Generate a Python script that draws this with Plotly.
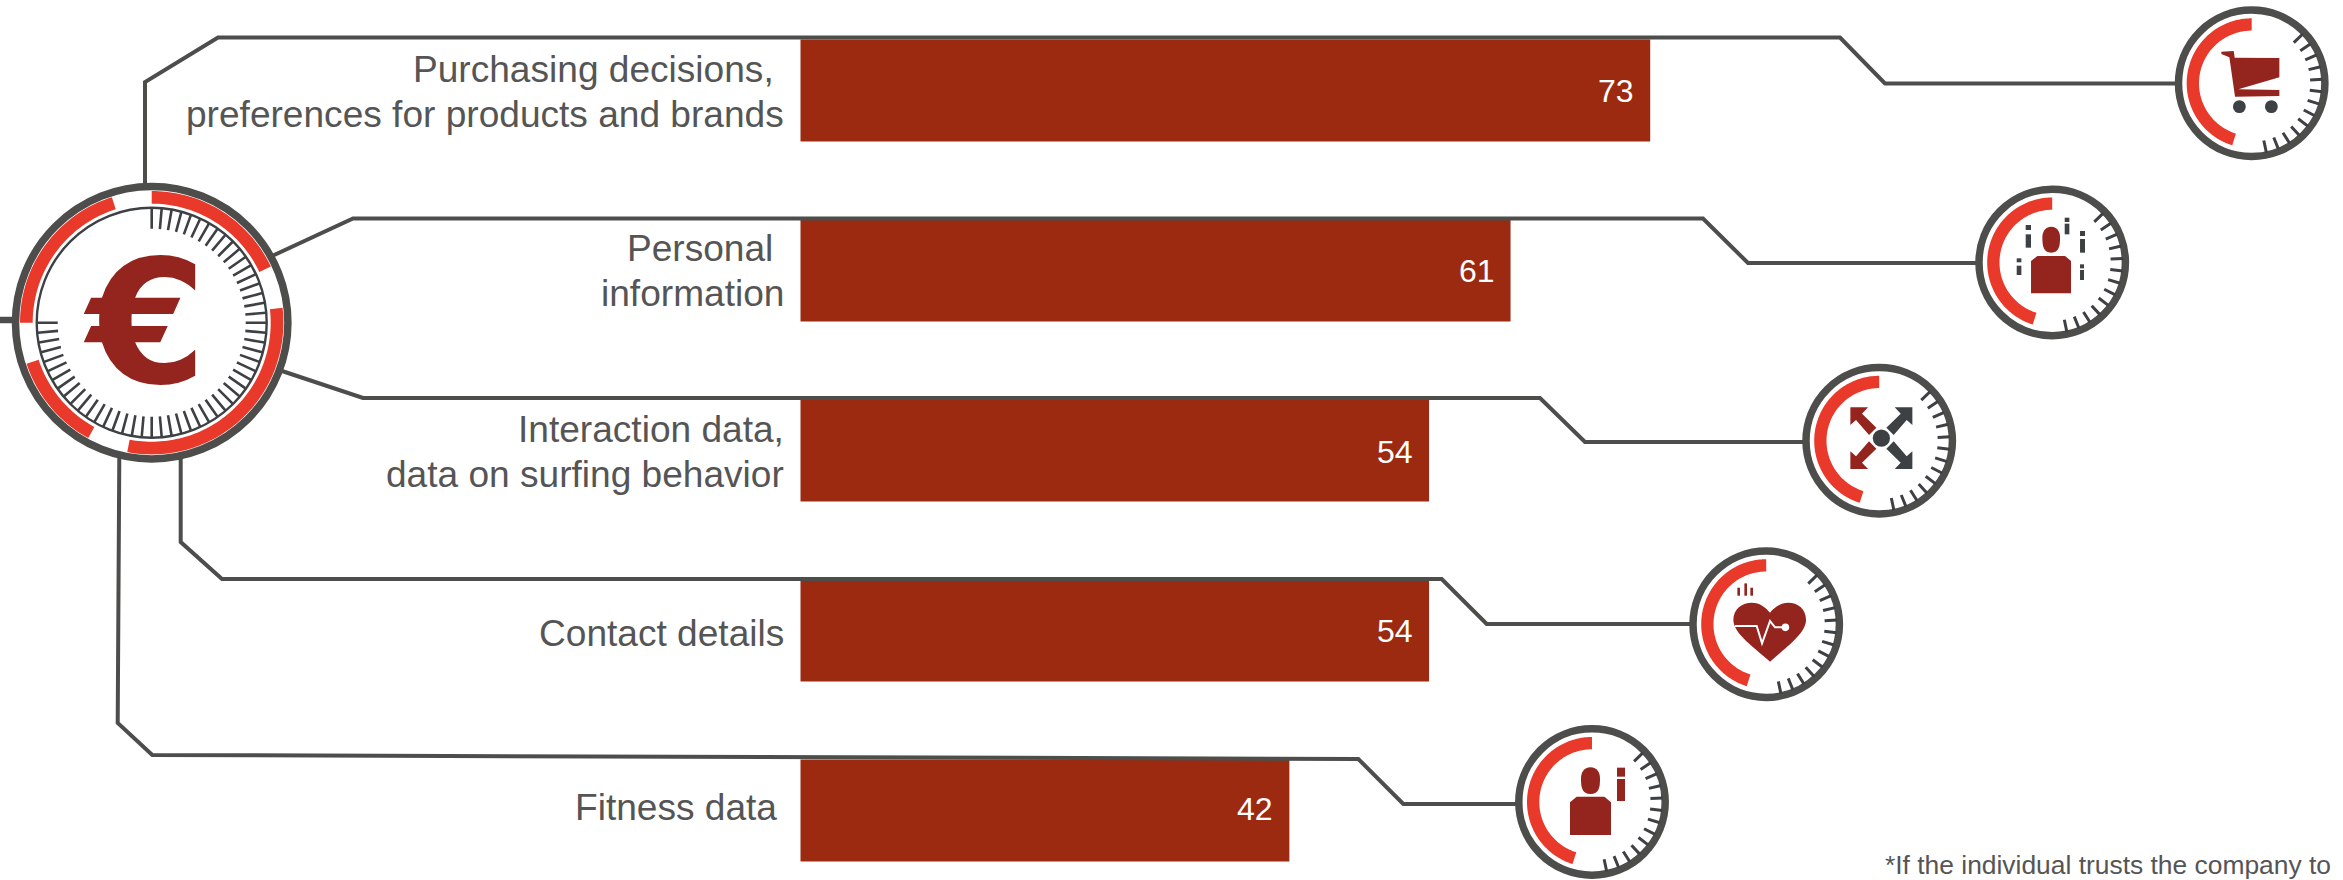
import math
import plotly.graph_objects as go

# ---- data ----
categories = [
    "Purchasing decisions,\u00a0\npreferences for products and brands",
    "Personal\u00a0\ninformation",
    "Interaction data,\ndata on surfing behavior",
    "Contact details",
    "Fitness data\u00a0",
]
values = [73, 61, 54, 54, 42]
footnote = "*If the individual trusts the company to"

# ---- palette ----
BAR = "#9c2a11"
ICON = "#93241e"
RED = "#e8392b"
RING = "#4d4d4b"
SLATE = "#3d4144"
TEXT = "#555555"
FONT = "Liberation Sans, Arial, sans-serif"

W, H = 2343, 880

# Value axis: 800.5 px is zero, 11.64 px per unit. Category axis: rows are 180 px apart.
X_ZERO, X_UNIT = 800.5, 11.64
Y_FIRST, Y_STEP = 90.4, 180.0
x_range = [-X_ZERO / X_UNIT, (W - X_ZERO) / X_UNIT]
y_range = [(H - Y_FIRST) / Y_STEP, -Y_FIRST / Y_STEP]

# Connector routes from the central dial to each row's gauge
connectors = [
    [(145, 184), (145, 82), (218, 37.5), (1840, 37.5), (1885, 83.5), (2178, 83.5)],
    [(272, 256), (353, 218.5), (1703, 218.5), (1748, 263), (1978, 263)],
    [(282, 371), (363, 398), (1540, 398), (1585, 442), (1805, 442)],
    [(180.7, 458), (180.7, 542), (222, 579), (1441.7, 579), (1486.7, 624), (1692, 624)],
    [(119.3, 456), (117.7, 723), (152.3, 755), (1358.3, 759), (1403.3, 804), (1518, 804)],
]
feed_stub = [(0, 320), (15, 320)]

# Gauge centres, top to bottom
gauge_centres = [(2251.7, 83.3), (2052.2, 262.5), (1879.2, 440.8), (1766.2, 624.2), (1592, 802)]
DIAL = (151.7, 322.7)
dial_arcs = [(0, 64.8), (83.5, 190.7), (208.8, 251.8), (270, 342.4)]


def polar(c, r, deg):
    """Point at radius r, deg clockwise from twelve o'clock."""
    a = math.radians(deg)
    return c[0] + r * math.sin(a), c[1] - r * math.cos(a)


def fmt(points, close=False):
    body = " L ".join(f"{x:.2f} {y:.2f}" for x, y in points)
    return "M " + body + (" Z" if close else "")


def sector(c, r0, r1, a0, a1):
    n = max(2, int(abs(a1 - a0) / 1.5))
    outer = [polar(c, r1, a0 + (a1 - a0) * i / n) for i in range(n + 1)]
    inner = [polar(c, r0, a1 - (a1 - a0) * i / n) for i in range(n + 1)]
    return fmt(outer + inner, close=True)


def ticks(c, r0, r1, angles):
    return " ".join(fmt([polar(c, r0, a), polar(c, r1, a)]) for a in angles)


shapes = []


def path(d, fill=None, line=None, width=0):
    shapes.append(dict(
        type="path", path=d, xref="x2", yref="y2",
        fillcolor=fill if fill else "rgba(0,0,0,0)",
        line=dict(color=line if line else "rgba(0,0,0,0)", width=width),
    ))


def circle(c, r, fill=None, line=None, width=0):
    shapes.append(dict(
        type="circle", xref="x2", yref="y2",
        x0=c[0] - r, x1=c[0] + r, y0=c[1] - r, y1=c[1] + r,
        fillcolor=fill if fill else "rgba(0,0,0,0)",
        line=dict(color=line if line else "rgba(0,0,0,0)", width=width),
    ))


def gauge(c):
    circle(c, 73.2, fill="#ffffff", line=RING, width=7.5)
    path(sector(c, 52.7, 65, 0, -162.6), fill=RED)
    path(ticks(c, 58.5, 71, [46 + 10.17 * i for i in range(13)]), line=SLATE, width=3)


# Icons are authored in 3x units around the gauge centre.
def icon_pts(c, origin, pts):
    return [(c[0] + (x - origin[0]) / 3, c[1] + (y - origin[1]) / 3) for x, y in pts]


def icon_poly(c, origin, pts, fill=ICON):
    path(fmt(icon_pts(c, origin, pts), close=True), fill=fill)


def icon_rect(c, origin, x0, x1, y0, y1, fill):
    icon_poly(c, origin, [(x0, y0), (x1, y0), (x1, y1), (x0, y1)], fill)


def icon_curve(c, origin, start, segments, fill=ICON):
    d = "M {:.2f} {:.2f}".format(*icon_pts(c, origin, [start])[0])
    for seg in segments:
        p = icon_pts(c, origin, seg)
        d += " C " + " ".join(f"{x:.2f} {y:.2f}" for x, y in p)
    path(d + " Z", fill=fill)


def head(c, origin, x0, x1, y0, y1, fill=ICON):
    xm = (x0 + x1) / 2
    icon_curve(c, origin, (xm, y0), [
        [(xm + (x1 - x0) * 0.35, y0), (x1, y0 + (y1 - y0) * 0.2), (x1, y0 + (y1 - y0) * 0.42)],
        [(x1, y0 + (y1 - y0) * 0.75), (x1 - 3, y1), (xm, y1)],
        [(x0 + 3, y1), (x0, y0 + (y1 - y0) * 0.75), (x0, y0 + (y1 - y0) * 0.42)],
        [(x0, y0 + (y1 - y0) * 0.2), (xm - (x1 - x0) * 0.35, y0), (xm, y0)],
    ], fill)


def letter_i(c, origin, x0, x1, dot0, dot1, stem0, stem1, fill):
    icon_rect(c, origin, x0, x1, dot0, dot1, fill)
    icon_rect(c, origin, x0, x1, stem0, stem1, fill)


def cart_icon(c):
    o = (305, 250)
    icon_poly(c, o, [(214, 155), (251, 153), (254, 173), (388, 174), (388, 232), (265, 268),
                     (388, 270), (388, 288), (255, 290), (238, 172), (214, 162)])
    circle(icon_pts(c, o, [(268, 320)])[0], 6.4, fill=SLATE)
    circle(icon_pts(c, o, [(364, 320)])[0], 6.4, fill=SLATE)


def crowd_icon(c):
    o = (276.5, 262.5)
    head(c, o, 247, 300, 155, 233)
    icon_poly(c, o, [(232, 243), (315, 243), (333, 258), (333, 355), (213, 355), (213, 258)])
    for x0, x1, d0, d1, s0, s1 in [
        (197, 213, 150, 165, 178, 218),
        (314, 328, 128, 141, 146, 178),
        (360, 375, 168, 183, 192, 233),
        (170, 184, 250, 262, 272, 300),
        (360, 372, 268, 280, 285, 315),
    ]:
        letter_i(c, o, x0, x1, d0, d1, s0, s1, SLATE)


def arrows_icon(c):
    o = (266.5, 257.5)
    mx, my = 273, 249.5
    arrow = [(180, 157), (233, 157), (215, 176), (258, 218), (236, 240), (197, 195), (180, 210)]
    for sx, sy, fill in [(1, 1, ICON), (-1, 1, SLATE), (1, -1, ICON), (-1, -1, SLATE)]:
        icon_poly(c, o, [(mx + sx * (x - mx), my + sy * (y - my)) for x, y in arrow], fill)
    circle(icon_pts(c, o, [(mx, my)])[0], 8.6, fill=SLATE)


def heart_icon(c):
    o = (258.5, 252.5)
    icon_curve(c, o, (270, 365), [
        [(230, 328), (160, 282), (160, 240)],
        [(160, 205), (188, 188), (215, 188)],
        [(240, 188), (258, 203), (270, 218)],
        [(282, 203), (300, 188), (325, 188)],
        [(352, 188), (378, 205), (378, 240)],
        [(378, 282), (310, 328), (270, 365)],
    ])
    path(fmt(icon_pts(c, o, [(165, 258), (230, 258), (246, 310), (270, 243), (285, 262), (315, 262)])),
         line="#ffffff", width=2)
    circle(icon_pts(c, o, [(316, 262)])[0], 3.8, fill="#ffffff")
    for x0, x1, y0 in [(172, 180, 143), (193, 201, 130), (211, 219, 143)]:
        icon_rect(c, o, x0, x1, y0, 167, ICON)


def person_icon(c):
    o = (261, 261)
    head(c, o, 228, 285, 157, 237)
    icon_poly(c, o, [(215, 245), (298, 245), (318, 262), (318, 360), (195, 360), (195, 262)])
    letter_i(c, o, 336, 360, 158, 185, 192, 258, ICON)


fig = go.Figure()

fig.add_trace(go.Bar(
    x=values, y=categories, orientation="h", width=102 / Y_STEP,
    marker=dict(color=BAR, line=dict(width=0)),
    hoverinfo="skip", showlegend=False, xaxis="x", yaxis="y",
))

for route in connectors + [feed_stub]:
    fig.add_trace(go.Scatter(
        x=[p[0] for p in route], y=[p[1] for p in route], mode="lines",
        line=dict(color=RING, width=6.5 if route is feed_stub else 4),
        hoverinfo="skip", showlegend=False, xaxis="x2", yaxis="y2",
    ))

# Central dial
circle(DIAL, 136.2, fill="#ffffff", line=RING, width=7.5)
for a0, a1 in dial_arcs:
    path(sector(DIAL, 119, 131.7, a0, a1), fill=RED)
circle(DIAL, 115, line=SLATE, width=2.4)
path(ticks(DIAL, 94, 114.5, [5 * i for i in range(55)]), line=SLATE, width=2.6)

# Row gauges and their icons
for centre, draw_icon in zip(gauge_centres, [cart_icon, crowd_icon, arrows_icon, heart_icon, person_icon]):
    gauge(centre)
    draw_icon(centre)

annotations = []

# Category labels sit left of the zero line, one annotation per text line
LINE_GAP = 45
label_offsets = [1.2, 0.4, 1.0, 3.0, -3.0]
label_right = [-15, -15, -15, -15, -12]
for cat, offset, right in zip(categories, label_offsets, label_right):
    lines = cat.split("\n")
    for j, line in enumerate(lines):
        annotations.append(dict(
            x=0, y=cat, xref="x", yref="y", text=line, showarrow=False,
            xanchor="right", yanchor="middle", xshift=right,
            yshift=-(offset + (j - (len(lines) - 1) / 2) * LINE_GAP),
            font=dict(family=FONT, size=37.1, color=TEXT),
        ))

# Value labels inside each bar's end
value_offsets = [0.4, 0.4, 1.4, 0.4, -1.6]
for cat, val, offset in zip(categories, values, value_offsets):
    annotations.append(dict(
        x=val, y=cat, xref="x", yref="y", text=str(val), showarrow=False,
        xanchor="right", yanchor="middle", xshift=-14, yshift=-offset,
        font=dict(family=FONT, size=32, color="#ffffff"),
    ))

annotations.append(dict(
    x=145, y=323, xref="x2", yref="y2", text="<b>€</b>", showarrow=False,
    xanchor="center", yanchor="middle",
    font=dict(family="DejaVu Sans", size=172, color=ICON),
))
annotations.append(dict(
    x=2333, y=865, xref="x2", yref="y2", text=footnote, showarrow=False,
    xanchor="right", yanchor="middle",
    font=dict(family=FONT, size=26.4, color=TEXT),
))

hidden = dict(visible=False, fixedrange=True, showgrid=False, zeroline=False)
fig.update_layout(
    width=W, height=H, margin=dict(l=0, r=0, t=0, b=0),
    paper_bgcolor="#ffffff", plot_bgcolor="#ffffff",
    showlegend=False, shapes=shapes, annotations=annotations,
    xaxis=dict(range=x_range, domain=[0, 1], **hidden),
    yaxis=dict(range=y_range, domain=[0, 1], type="category",
               categoryorder="array", categoryarray=categories, **hidden),
    xaxis2=dict(range=[0, W], domain=[0, 1], overlaying="x", anchor="y2", **hidden),
    yaxis2=dict(range=[H, 0], domain=[0, 1], overlaying="y", anchor="x2", **hidden),
)

fig.write_html("out.html")
